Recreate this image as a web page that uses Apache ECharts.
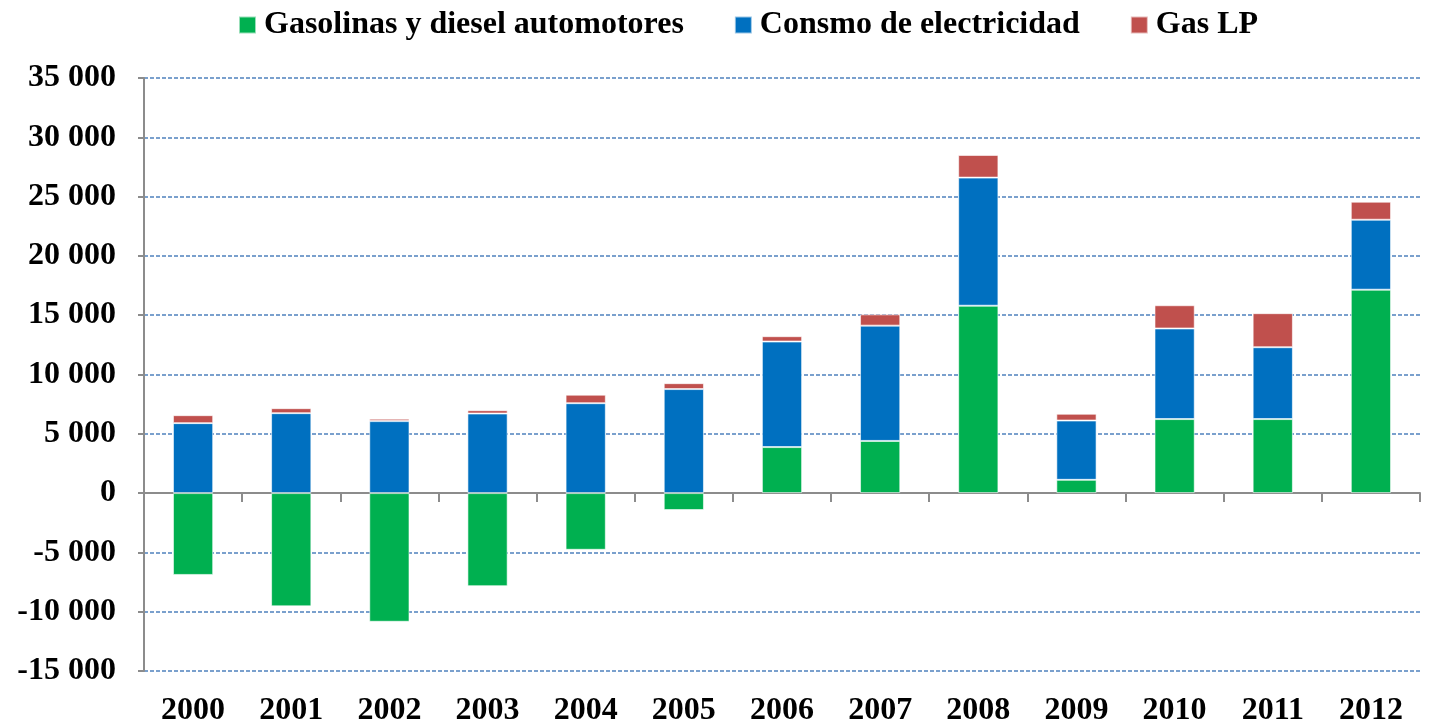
<!DOCTYPE html>
<html>
<head>
<meta charset="utf-8">
<script src="https://cdn.jsdelivr.net/npm/echarts@6/dist/echarts.min.js"></script>
<style>
  html, body { margin: 0; padding: 0; background: #fff; }
  #main { width: 1433px; height: 723px; }
</style>
</head>
<body>
<div id="main"></div>
<script>
var years = ['2000', '2001', '2002', '2003', '2004', '2005', '2006', '2007', '2008', '2009', '2010', '2011', '2012'];
var gasolinas = [-6900, -9550, -10850, -7850, -4780, -1430, 3880, 4400, 15800, 1120, 6240, 6240, 17150];
var electricidad = [5900, 6740, 6070, 6710, 7580, 8770, 8900, 9720, 10800, 5000, 7640, 6060, 5900];
var gasLP = [670, 420, 200, 280, 720, 500, 450, 950, 1910, 570, 1960, 2870, 1520];

var font = '"Liberation Serif", "DejaVu Serif", serif';
var labelStyle = { fontFamily: font, fontWeight: 'bold', fontSize: 32, color: '#000' };
var edge = { borderColor: 'rgba(255,255,255,0.6)', borderWidth: 1 };

// "35000" -> "35 000"
function fmt(v) {
  var s = Math.abs(v).toString();
  if (s.length > 3) s = s.slice(0, s.length - 3) + ' ' + s.slice(s.length - 3);
  return (v < 0 ? '-' : '') + s;
}

var chart = echarts.init(document.getElementById('main'));
chart.setOption({
  animation: false,
  legend: {
    top: 4,
    left: 233,
    itemWidth: 17,
    itemHeight: 17,
    itemGap: 50,
    icon: 'rect',
    textStyle: Object.assign({ padding: [0, 0, 0, 3] }, labelStyle),
    data: ['Gasolinas y diesel automotores', 'Consmo de electricidad', 'Gas LP']
  },
  grid: { left: 144, right: 13, top: 78, bottom: 52, outerBoundsMode: 'none' },
  xAxis: [
    {
      type: 'category',
      data: years,
      axisLine: { onZero: true, lineStyle: { color: '#8c8c8c', width: 2 } },
      axisTick: { show: true, length: 9, lineStyle: { color: '#8c8c8c', width: 2 } },
      axisLabel: { show: false }
    },
    {
      type: 'category',
      data: years,
      position: 'bottom',
      axisLine: { show: false, onZero: false },
      axisTick: { show: false },
      axisLabel: Object.assign({ margin: 24 }, labelStyle)
    }
  ],
  yAxis: {
    type: 'value',
    min: -15000,
    max: 35000,
    interval: 5000,
    axisLine: { show: true, lineStyle: { color: '#8c8c8c', width: 2 } },
    axisTick: { show: true, length: 6, lineStyle: { color: '#8c8c8c', width: 2 } },
    axisLabel: Object.assign({ margin: 28, formatter: fmt }, labelStyle),
    splitLine: { show: true, lineStyle: { color: '#4f81bd', type: [4, 2], width: 1.5 } }
  },
  series: [
    {
      name: 'Gasolinas y diesel automotores',
      type: 'bar',
      stack: 'total',
      barWidth: '41%',
      itemStyle: Object.assign({ color: '#00b050' }, edge),
      data: gasolinas
    },
    {
      name: 'Consmo de electricidad',
      type: 'bar',
      stack: 'total',
      itemStyle: Object.assign({ color: '#0070c0' }, edge),
      data: electricidad
    },
    {
      name: 'Gas LP',
      type: 'bar',
      stack: 'total',
      itemStyle: Object.assign({ color: '#c0504d' }, edge),
      data: gasLP
    }
  ]
});
</script>
</body>
</html>
